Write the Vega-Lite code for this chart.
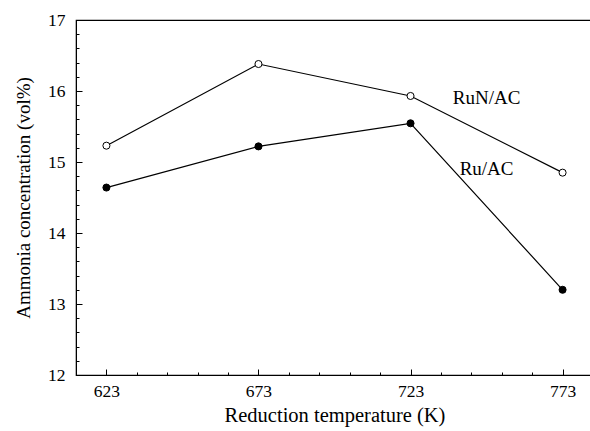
{
  "$schema": "https://vega.github.io/schema/vega-lite/v6.json",
  "autosize": {"type": "none"},
  "padding": {"left": 76, "top": 20, "right": 0, "bottom": 56},
  "width": 517,
  "height": 355,
  "background": "white",
  "config": {
    "view": {"stroke": "black", "strokeWidth": 1.2},
    "axis": {
      "labelFont": "Liberation Serif",
      "titleFont": "Liberation Serif",
      "labelColor": "black",
      "titleColor": "black",
      "domainColor": "black",
      "tickColor": "black",
      "labelFontSize": 17.5,
      "titleFontSize": 20.5,
      "titleFontWeight": "normal",
      "grid": false,
      "labelOverlap": false,
      "labelFlush": false
    }
  },
  "data": {
    "values": [
      {"T": 623, "c": 15.23, "s": "RuN/AC"},
      {"T": 673, "c": 16.38, "s": "RuN/AC"},
      {"T": 723, "c": 15.93, "s": "RuN/AC"},
      {"T": 773, "c": 14.85, "s": "RuN/AC"},
      {"T": 623, "c": 14.64, "s": "Ru/AC"},
      {"T": 673, "c": 15.22, "s": "Ru/AC"},
      {"T": 723, "c": 15.545, "s": "Ru/AC"},
      {"T": 773, "c": 13.2, "s": "Ru/AC"}
    ]
  },
  "encoding": {
    "x": {
      "field": "T", "type": "quantitative",
      "scale": {"domain": [613, 783], "nice": false, "zero": false},
      "axis": {
        "title": "Reduction temperature (K)",
        "values": [623, 633, 643, 653, 663, 673, 683, 693, 703, 713, 723, 733, 743, 753, 763, 773],
        "labelExpr": "(datum.value - 623) % 50 === 0 ? format(datum.value, 'd') : ''",
        "labelFont": "Liberation Serif",
        "tickSize": {"condition": {"test": "(datum.value - 623) % 50 === 0", "value": -6}, "value": -3},
        "labelPadding": 13,
        "titlePadding": 3
      }
    },
    "y": {
      "field": "c", "type": "quantitative",
      "scale": {"domain": [12, 17], "nice": false, "zero": false},
      "axis": {
        "title": "Ammonia concentration (vol%)",
        "titleFontSize": 19,
        "values": [12, 12.2, 12.4, 12.6, 12.8, 13, 13.2, 13.4, 13.6, 13.8, 14, 14.2, 14.4, 14.6, 14.8, 15, 15.2, 15.4, 15.6, 15.8, 16, 16.2, 16.4, 16.6, 16.8, 17],
        "labelExpr": "abs(datum.value - round(datum.value)) < 0.01 ? format(datum.value, 'd') : ''",
        "labelFont": "Liberation Serif",
        "tickSize": {"condition": {"test": "abs(datum.value - round(datum.value)) < 0.01", "value": -6}, "value": -3},
        "labelPadding": 17,
        "titlePadding": 14
      }
    }
  },
  "layer": [
    {
      "mark": {"type": "line", "color": "black", "strokeWidth": 1.2},
      "encoding": {"detail": {"field": "s"}}
    },
    {
      "mark": {"type": "point", "filled": true, "size": 50, "stroke": "black", "strokeWidth": 1, "opacity": 1},
      "encoding": {
        "fill": {"field": "s", "type": "nominal", "scale": {"domain": ["RuN/AC", "Ru/AC"], "range": ["white", "black"]}, "legend": null}
      }
    },
    {
      "data": {"values": [
        {"T": 748, "c": 15.9, "label": "RuN/AC"},
        {"T": 748, "c": 14.9, "label": "Ru/AC"}
      ]},
      "mark": {"type": "text", "font": "Liberation Serif", "fontSize": 19, "color": "black"},
      "encoding": {"text": {"field": "label"}}
    }
  ]
}
